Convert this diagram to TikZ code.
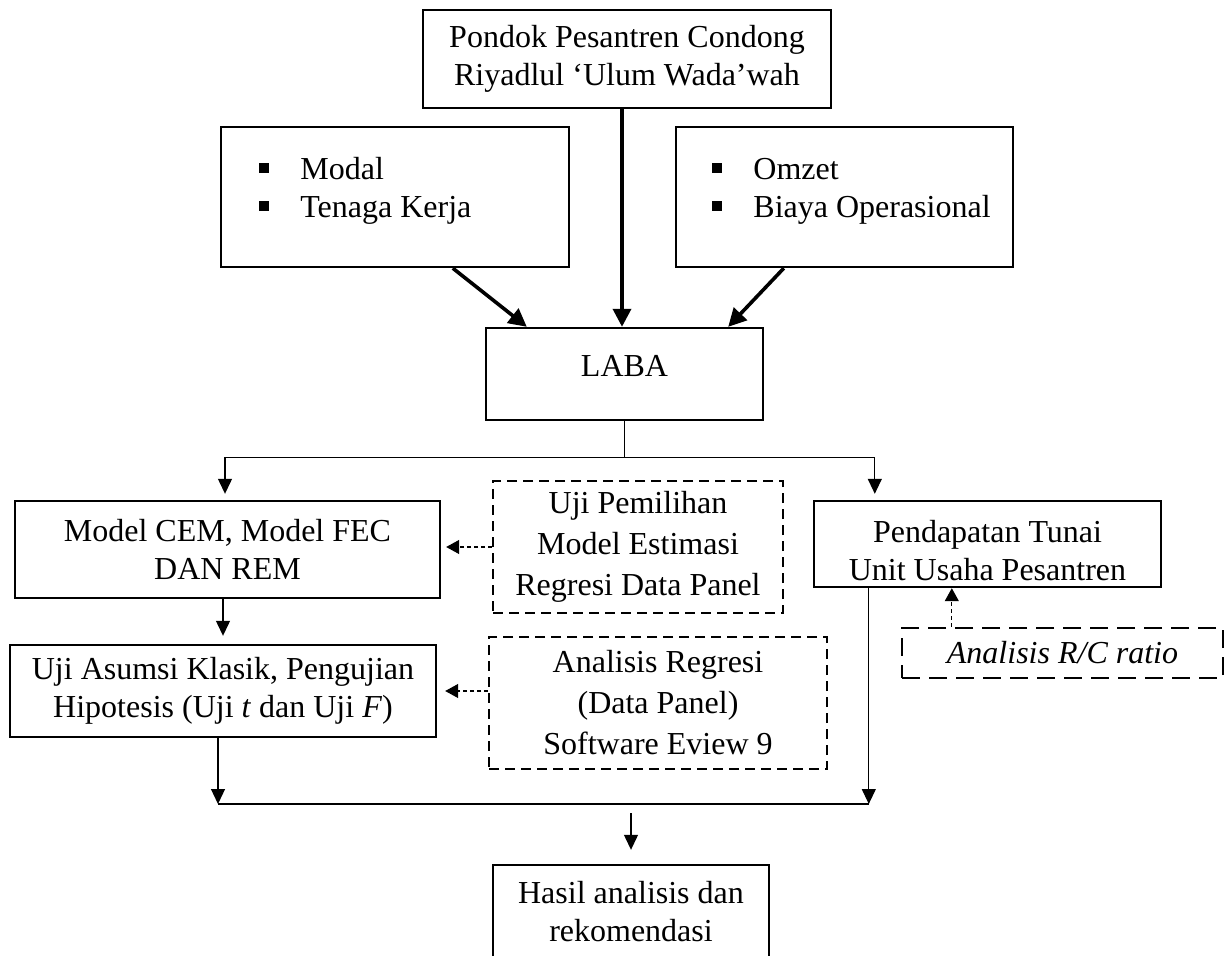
\documentclass[tikz,border=0pt]{standalone}
\usepackage{fontspec}
\setmainfont{Liberation Serif}
\usetikzlibrary{arrows.meta,calc}
\tikzset{
	kotak/.style={draw, line width=1.2pt, align=center, inner sep=0pt},
	kotakputus/.style={draw, line width=1pt, dash pattern=on 5pt off 3pt, align=center, inner sep=0pt},
	garis/.style={line width=0.6pt},
	panah/.style={garis, -{Triangle[length=7.5pt,width=7pt]}},
	panahtebal/.style={line width=1.8pt, -{Triangle[length=9pt,width=9pt]}},
	panahputus/.style={garis, dash pattern=on 2pt off 1.5pt, -{Triangle[length=6.5pt,width=7pt]}},
	teks/.style={font=\fontsize{16}{19}\selectfont},
	tekslebar/.style={font=\fontsize{16}{20.5}\selectfont}
}
\newcommand{\butir}{\rule[3.5pt]{5pt}{5pt}}
\begin{document}
\begin{tikzpicture}[x=0.5pt,y=-0.5pt]
			\useasboundingbox (0,0) rectangle (1230,956);
			\node[kotak, teks, minimum width=204pt, minimum height=49pt] (pondok) at (627,59) {Pondok Pesantren Condong\\Riyadlul ‘Ulum Wada’wah};
			\node[kotak, minimum width=174pt, minimum height=70pt] (modal) at (395,197) {};
			\node[teks, inner sep=0pt, anchor=base west] (modalisi) at (259,180) {\begin{tabular}[t]{@{}l@{\hspace{15.5pt}}l@{}}\butir & Modal\\ \butir & Tenaga Kerja\end{tabular}};
			\node[kotak, minimum width=168.5pt, minimum height=70pt] (omzet) at (844.5,197) {};
			\node[teks, inner sep=0pt, anchor=base west] (omzetisi) at (712,180) {\begin{tabular}[t]{@{}l@{\hspace{15.5pt}}l@{}}\butir & Omzet\\ \butir & Biaya Operasional\end{tabular}};
			\node[kotak, teks, text depth=7.6pt, minimum width=138.5pt, minimum height=46pt] (laba) at (624.5,374) {LABA};
			\draw[panahtebal] ([xshift=116.5pt]modal.south west) -- ([xshift=21pt]laba.north west);
			\draw[panahtebal] ([xshift=-2.5pt]pondok.south) -- ([xshift=-2.5pt]pondok.south |- laba.north);
			\draw[panahtebal] ([xshift=54.5pt]omzet.south west) -- ([xshift=-18pt]laba.north east);
			\node[kotak, teks, minimum width=212.5pt, minimum height=48.5pt] (model) at (227.5,549.5) {Model CEM, Model FEC\\DAN REM};
			\node[kotakputus, tekslebar, minimum width=145pt, minimum height=66pt] (pemilihan) at (638,547) {Uji Pemilihan\\Model Estimasi\\Regresi Data Panel};
			\node[kotak, minimum width=173.5pt, minimum height=43pt] (pendapatan) at (987.5,544) {};
			\node[teks, align=center, inner sep=0pt] (pendapatanteks) at (987.5,551) {Pendapatan Tunai\\Unit Usaha Pesantren};
			\node[kotakputus, teks, line width=1.4pt, dash pattern=on 9pt off 4.5pt, minimum width=160.5pt, minimum height=25pt] (rc) at (1062.5,653) {\textit{Analisis R/C ratio}};
			\node[kotak, teks, minimum width=213pt, minimum height=46pt] (asumsi) at (223,691) {Uji Asumsi Klasik, Pengujian\\Hipotesis (Uji \textit{t} dan Uji \textit{F})};
			\node[kotakputus, tekslebar, minimum width=169pt, minimum height=66pt] (analisis) at (658,703) {Analisis Regresi\\(Data Panel)\\Software Eview 9};
			\node[kotak, teks, minimum width=138pt, minimum height=46.5pt] (hasil) at (631,911.5) {Hasil analisis dan\\rekomendasi};
			\coordinate (cabang) at ([yshift=-18pt]laba.south);
			\draw[garis] (laba.south) -- (cabang);
			\draw[panah, shorten >=3pt] (cabang) -| ([xshift=-1.25pt]model.north);
			\draw[panah, shorten >=3pt] (cabang) -| ([xshift=31pt]pendapatan.north west);
			\draw[panah, shorten >=4pt] (asumsi.north |- model.south) -- (asumsi.north);
			\draw[panahputus, shorten >=2.5pt] (pemilihan.west) -- (pemilihan.west -| model.east);
			\draw[panahputus, shorten >=4pt] (analisis.west |- asumsi.east) -- (asumsi.east);
			\draw[panahputus] ([xshift=69.5pt]pendapatan.south west |- rc.north) -- ([xshift=69.5pt]pendapatan.south west);
			\coordinate (gabung) at (631,804);
			\draw[panah] ([xshift=-2.5pt]asumsi.south) -- ([xshift=-2.5pt]asumsi.south |- gabung);
			\draw[panah] ([xshift=28pt]pendapatan.south west) -- ([xshift=28pt]pendapatan.south west |- gabung);
			\draw[garis] ([xshift=-2.5pt]asumsi.south |- gabung) -- ([xshift=28pt]pendapatan.south west |- gabung);
			\draw[panah, shorten >=7pt] ([yshift=-4.5pt]gabung) -- (gabung |- hasil.north);
		\end{tikzpicture}
\end{document}
